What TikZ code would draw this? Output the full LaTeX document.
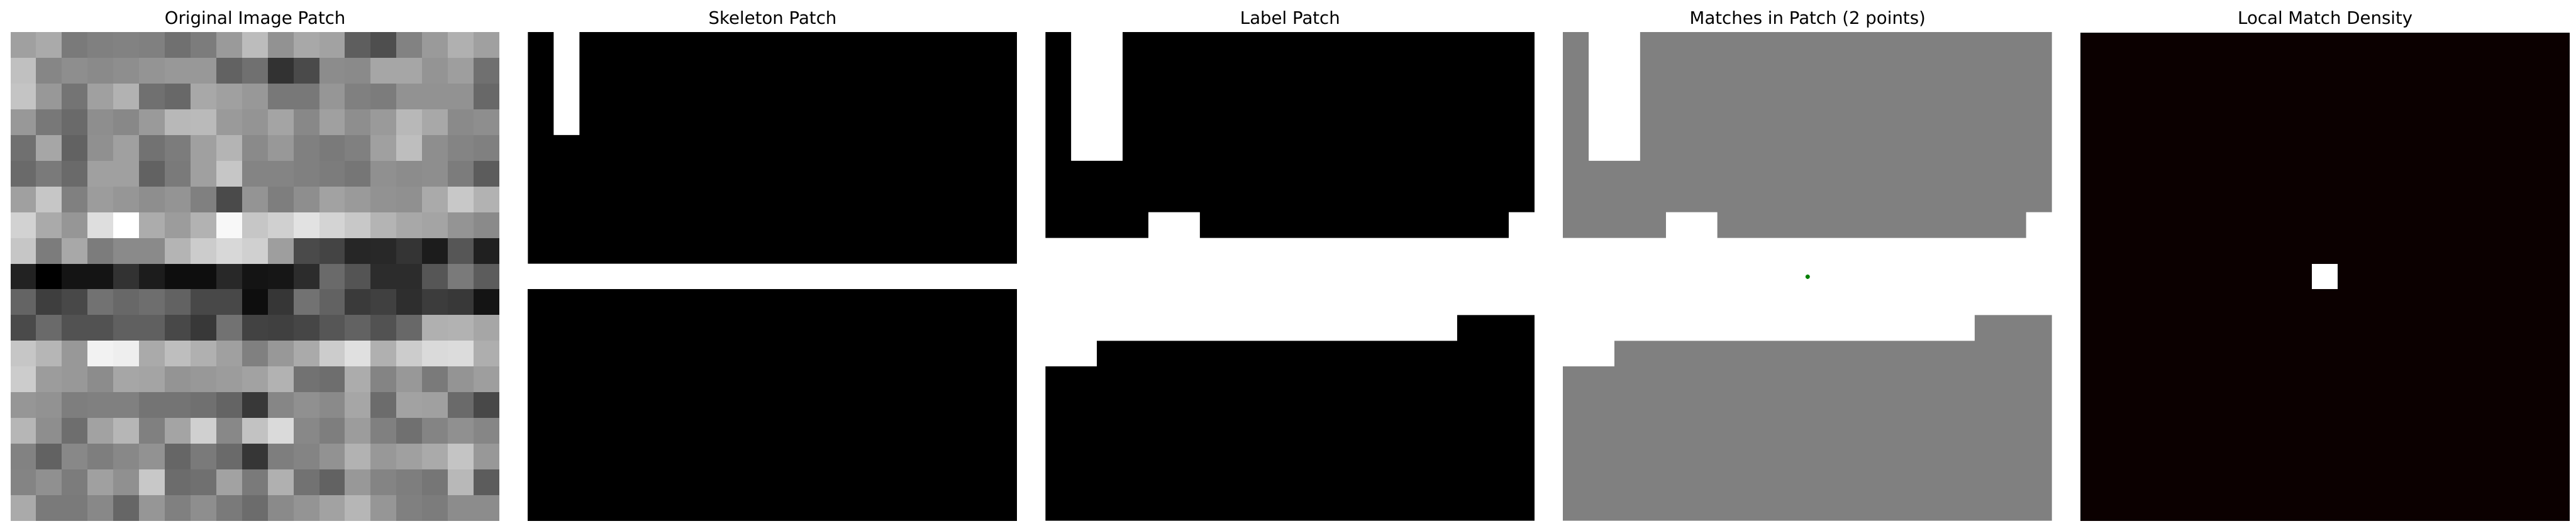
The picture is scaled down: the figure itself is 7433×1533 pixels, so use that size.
\documentclass[tikz,border=0pt]{standalone}
\usepackage{fontspec}
\setmainfont{DejaVu Sans}
\usepackage{xcolor}
\usepackage{tikz}
\usetikzlibrary{positioning}
\definecolor{patchgray}{RGB}{128,128,128}
\definecolor{matchgreen}{RGB}{0,128,0}
\definecolor{hotdark}{RGB}{11,0,0}
\newcommand{\cellsz}{0.742105cm}
\tikzset{
  panelbox/.style={rectangle, inner sep=0pt, minimum size=14.1cm},
  ptitle/.style={font=\fontsize{14.23}{17}\selectfont, inner sep=0pt},
  skelfill/.style={fill=black},
  labelfill/.style={fill=black},
  matchfill/.style={fill=patchgray}
}

\begin{document}
\begin{tikzpicture}[x=0.01cm, y=-0.01cm]
  \useasboundingbox (0,0) rectangle (7433,1533);

  % Panels
  \node[panelbox, anchor=north west] (orig) at (30,93) {};
  \node[panelbox, right=0.81cm of orig] (skel) {};
  \node[panelbox, right=0.81cm of skel] (lab) {};
  \node[panelbox, right=0.81cm of lab] (match) {};
  \node[panelbox, right=0.81cm of match, fill=hotdark] (dens) {};

  % Titles
  \node[ptitle, above=0.23cm of orig, anchor=base] (torig) {Original Image Patch};
  \node[ptitle, above=0.23cm of skel, anchor=base] (tskel) {Skeleton Patch};
  \node[ptitle, above=0.23cm of lab, anchor=base] (tlab) {Label Patch};
  \node[ptitle, above=0.23cm of match, anchor=base] (tmatch) {Matches in Patch (2 points)};
  \node[ptitle, above=0.23cm of dens, anchor=base] (tdens) {Local Match Density};

  % Grey values of the image patch
  \begin{scope}[shift={(orig.north west)}, x=\cellsz, y=-\cellsz]
    \foreach \rowvals [count=\r from 0] in {
      {160,170,122,128,130,128,112,124,154,188,146,168,162,94,78,130,154,176,160},
      {192,134,142,138,142,148,152,152,98,112,50,74,140,138,166,166,148,158,112},
      {196,152,116,160,178,112,104,168,160,152,120,120,150,128,124,146,146,146,104},
      {152,120,106,142,136,154,184,186,154,148,164,136,160,142,154,184,168,138,142},
      {112,166,98,144,160,114,124,160,180,138,152,128,122,128,160,190,142,132,128},
      {106,122,106,160,160,98,122,160,198,132,132,128,124,118,144,140,142,124,92},
      {160,198,128,156,150,142,148,128,74,148,126,142,162,154,146,144,170,200,178},
      {210,170,150,222,255,172,156,178,248,198,208,226,212,200,180,168,164,148,138},
      {198,124,168,124,138,138,180,204,216,208,158,74,68,38,40,52,28,86,32},
      {34,0,20,20,50,28,14,14,40,20,22,44,106,84,44,44,86,122,92},
      {100,62,72,114,104,110,98,72,72,14,54,114,98,58,64,46,60,56,20},
      {74,106,82,82,96,96,72,56,114,66,64,70,86,98,82,104,176,178,166},
      {198,182,152,242,238,170,190,176,160,128,152,170,204,224,176,204,218,220,174},
      {204,156,152,140,166,164,148,152,156,162,178,114,110,172,132,152,122,148,158},
      {150,146,126,128,128,116,116,112,100,56,134,144,138,166,108,162,160,106,72},
      {182,142,110,162,182,128,164,208,136,194,218,136,126,156,128,112,132,144,134},
      {130,98,136,126,136,146,102,122,106,54,126,132,146,178,152,160,170,196,152},
      {132,144,124,160,144,200,108,112,162,122,176,114,98,152,132,126,118,184,92},
      {170,122,122,136,102,150,128,142,122,108,138,148,162,182,150,128,124,140,140}} {
      \foreach \v [count=\c from 0] in \rowvals {
        \fill[fill={rgb,255:red,\v;green,\v;blue,\v}] (\c,\r) rectangle ++(1.01,1.01);
      }
    }
  \end{scope}

  % Skeleton
  \begin{scope}[shift={(skel.north west)}, x=\cellsz, y=-\cellsz]
    \fill[skelfill] (0,0) -- (1,0) -- (1,4) -- (2,4) -- (2,0) -- (19,0) -- (19,9) -- (0,9) -- cycle;
    \fill[skelfill] (0,10) rectangle (19,19);
  \end{scope}

  % Labels
  \begin{scope}[shift={(lab.north west)}, x=\cellsz, y=-\cellsz]
    \fill[labelfill] (0,0) -- (1,0) -- (1,5) -- (3,5) -- (3,0) -- (19,0) -- (19,7) -- (18,7)
      -- (18,8) -- (6,8) -- (6,7) -- (4,7) -- (4,8) -- (0,8) -- cycle;
    \fill[labelfill] (16,11) -- (19,11) -- (19,19) -- (0,19) -- (0,13) -- (2,13) -- (2,12)
      -- (16,12) -- cycle;
  \end{scope}

  % Matches
  \begin{scope}[shift={(match.north west)}, x=\cellsz, y=-\cellsz]
    \fill[matchfill] (0,0) -- (1,0) -- (1,5) -- (3,5) -- (3,0) -- (19,0) -- (19,7) -- (18,7)
      -- (18,8) -- (6,8) -- (6,7) -- (4,7) -- (4,8) -- (0,8) -- cycle;
    \fill[matchfill] (16,11) -- (19,11) -- (19,19) -- (0,19) -- (0,13) -- (2,13) -- (2,12)
      -- (16,12) -- cycle;
  \end{scope}
  \fill[matchgreen] (match.center) circle (0.065cm);

  % Density
  \begin{scope}[shift={(dens.north west)}, x=\cellsz, y=-\cellsz]
    \fill[white] (9,9) rectangle (10,10);
  \end{scope}
\end{tikzpicture}
\end{document}
